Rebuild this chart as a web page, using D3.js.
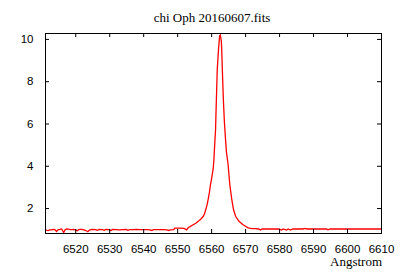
<!DOCTYPE html>
<html>
<head>
<meta charset="utf-8">
<script src="https://cdn.jsdelivr.net/npm/d3@7"></script>
<style>
  body { margin: 0; background: #fff; }
  svg { display: block; }
</style>
</head>
<body>
<script>
// spectrum (wavelength in Angstrom, relative flux)
var wavelength = [
  6511.1, 6511.6, 6512.0, 6512.5, 6513.0, 6513.5, 6514.0, 6514.5, 6515.0, 6515.5,
  6516.0, 6516.6, 6517.0, 6517.5, 6518.0, 6518.5, 6519.0, 6519.5, 6520.0, 6520.6,
  6521.0, 6521.5, 6522.0, 6522.5, 6523.0, 6523.7, 6524.2, 6525.0, 6526.0, 6526.5,
  6527.0, 6528.0, 6528.5, 6529.0, 6530.0, 6530.5, 6531.0, 6532.0, 6533.0, 6534.0,
  6535.0, 6535.5, 6536.0, 6537.0, 6538.0, 6539.0, 6540.0, 6541.0, 6542.0, 6542.5,
  6543.0, 6544.0, 6545.0, 6546.0, 6547.0, 6547.5, 6548.0, 6549.0, 6549.3, 6550.0,
  6551.0, 6552.0, 6552.8, 6553.3, 6553.8, 6554.7, 6555.5, 6556.2, 6557.0, 6557.7,
  6558.1, 6558.4, 6558.8, 6559.1, 6559.5, 6559.8, 6560.2, 6560.6, 6560.8, 6561.0,
  6561.3, 6561.5, 6561.8, 6562.2, 6562.5, 6562.7, 6563.0, 6563.1, 6563.3, 6563.6,
  6563.9, 6564.2, 6564.5, 6565.0, 6565.5, 6566.1, 6566.6, 6567.2, 6568.2, 6569.4,
  6570.0, 6570.9, 6572.0, 6573.0, 6574.0, 6574.5, 6575.0, 6576.0, 6577.0, 6578.0,
  6579.0, 6580.0, 6580.7, 6581.2, 6582.2, 6582.7, 6583.4, 6584.0, 6585.0, 6586.0,
  6587.0, 6587.6, 6588.2, 6589.0, 6590.0, 6591.0, 6592.0, 6593.0, 6594.0, 6594.4,
  6595.0, 6596.0, 6597.0, 6598.0, 6599.0, 6600.0, 6601.0, 6602.0, 6603.0, 6604.0,
  6605.0, 6606.0, 6607.0, 6608.0, 6609.0, 6610.0
];
var flux = [
  0.99, 0.95, 0.93, 0.97, 0.97, 0.99, 0.98, 0.89, 0.98, 0.99,
  1.01, 0.84, 0.97, 1.01, 1.00, 0.98, 0.98, 0.99, 0.97, 0.93,
  0.98, 0.99, 0.99, 0.97, 0.95, 0.88, 0.96, 0.99, 0.98, 0.95,
  0.99, 0.98, 0.95, 0.99, 0.98, 0.94, 0.99, 0.98, 0.97, 0.98,
  0.99, 0.95, 0.98, 0.98, 0.99, 0.98, 0.98, 0.98, 0.97, 0.94,
  0.98, 0.98, 0.98, 0.98, 0.97, 0.94, 0.97, 0.98, 1.05, 1.05,
  1.05, 1.04, 0.97, 1.08, 1.12, 1.21, 1.28, 1.37, 1.48, 1.61,
  1.75, 1.92, 2.15, 2.39, 2.75, 3.10, 3.45, 3.85, 4.25, 4.85,
  5.70, 6.88, 8.54, 9.57, 10.15, 10.18, 9.90, 9.57, 8.54, 7.12,
  6.08, 5.33, 4.66, 4.05, 3.10, 2.39, 1.92, 1.61, 1.37, 1.21,
  1.15, 1.06, 1.03, 1.03, 1.01, 0.96, 1.01, 1.01, 1.01, 1.01,
  1.01, 1.01, 0.96, 1.01, 0.96, 1.01, 0.96, 1.01, 1.01, 1.01,
  1.01, 1.04, 1.01, 1.01, 1.01, 1.01, 1.01, 1.01, 1.01, 0.97,
  1.01, 1.01, 1.01, 1.01, 1.01, 1.01, 1.01, 1.01, 1.01, 1.01,
  1.01, 1.01, 1.01, 1.01, 1.01, 1.01
];
var xTicks = [6520, 6530, 6540, 6550, 6560, 6570, 6580, 6590, 6600, 6610];
var yTicks = [2, 4, 6, 8, 10];
var title = 'chi Oph 20160607.fits';
var xLabel = 'Angstrom';

var width = 400, height = 280;
var mLeft = 45, mRight = 381, mTop = 33, mBottom = 233;

var svg = d3.select('body').append('svg')
            .attr('width', width)
            .attr('height', height);

var x = d3.scaleLinear().domain([6511.1, 6610]).range([mLeft, mRight]);
var y = d3.scaleLinear().domain([0.82, 10.28]).range([mBottom, mTop]);

var pts = wavelength.map(function(w, i) { return [w, flux[i]]; });

// spectrum
svg.append('path')
   .datum(pts)
   .attr('d', d3.line().x(function(d) { return x(d[0]); }).y(function(d) { return y(d[1]); }))
   .style('fill', 'none')
   .style('stroke', '#ff0000')
   .style('stroke-width', 1.3);

// axes, gnuplot style: ticks inward, mirrored
var tl = 4;
var tickFont = '"Liberation Sans", Arial, sans-serif';
var fmt = d3.format('d');

svg.append('g')
   .attr('transform', 'translate(0,' + mBottom + ')')
   .call(d3.axisBottom(x).tickValues(xTicks).tickFormat(fmt).tickSizeInner(-tl).tickSizeOuter(0).tickPadding(11.5))
   .call(function(g) { g.select('.domain').remove(); })
   .call(function(g) { g.selectAll('text').style('font-family', tickFont).style('font-size', '11.5px').attr('fill', '#000'); });

svg.append('g')
   .attr('transform', 'translate(0,' + mTop + ')')
   .call(d3.axisTop(x).tickValues(xTicks).tickSizeInner(-tl).tickSizeOuter(0).tickFormat(''))
   .call(function(g) { g.select('.domain').remove(); });

svg.append('g')
   .attr('transform', 'translate(' + mLeft + ',0)')
   .call(d3.axisLeft(y).tickValues(yTicks).tickFormat(fmt).tickSizeInner(-tl).tickSizeOuter(0).tickPadding(11.5))
   .call(function(g) { g.select('.domain').remove(); })
   .call(function(g) { g.selectAll('text').style('font-family', tickFont).style('font-size', '11.5px').attr('fill', '#000'); });

svg.append('g')
   .attr('transform', 'translate(' + mRight + ',0)')
   .call(d3.axisRight(y).tickValues(yTicks).tickSizeInner(-tl).tickSizeOuter(0).tickFormat(''))
   .call(function(g) { g.select('.domain').remove(); });

svg.selectAll('.tick line').attr('stroke', '#000');

// frame
svg.append('rect')
   .attr('x', mLeft + 0.5)
   .attr('y', mTop + 0.5)
   .attr('width', mRight - mLeft)
   .attr('height', mBottom - mTop)
   .style('fill', 'none')
   .style('stroke', '#000')
   .style('stroke-width', 1);

svg.append('text')
   .attr('x', 212)
   .attr('y', 22)
   .attr('text-anchor', 'middle')
   .style('font-family', '"Liberation Serif", "Times New Roman", serif')
   .style('font-size', '13px')
   .text(title);

svg.append('text')
   .attr('x', 382)
   .attr('y', 266)
   .attr('text-anchor', 'end')
   .style('font-family', '"Liberation Serif", "Times New Roman", serif')
   .style('font-size', '13px')
   .text(xLabel);
</script>
</body>
</html>
